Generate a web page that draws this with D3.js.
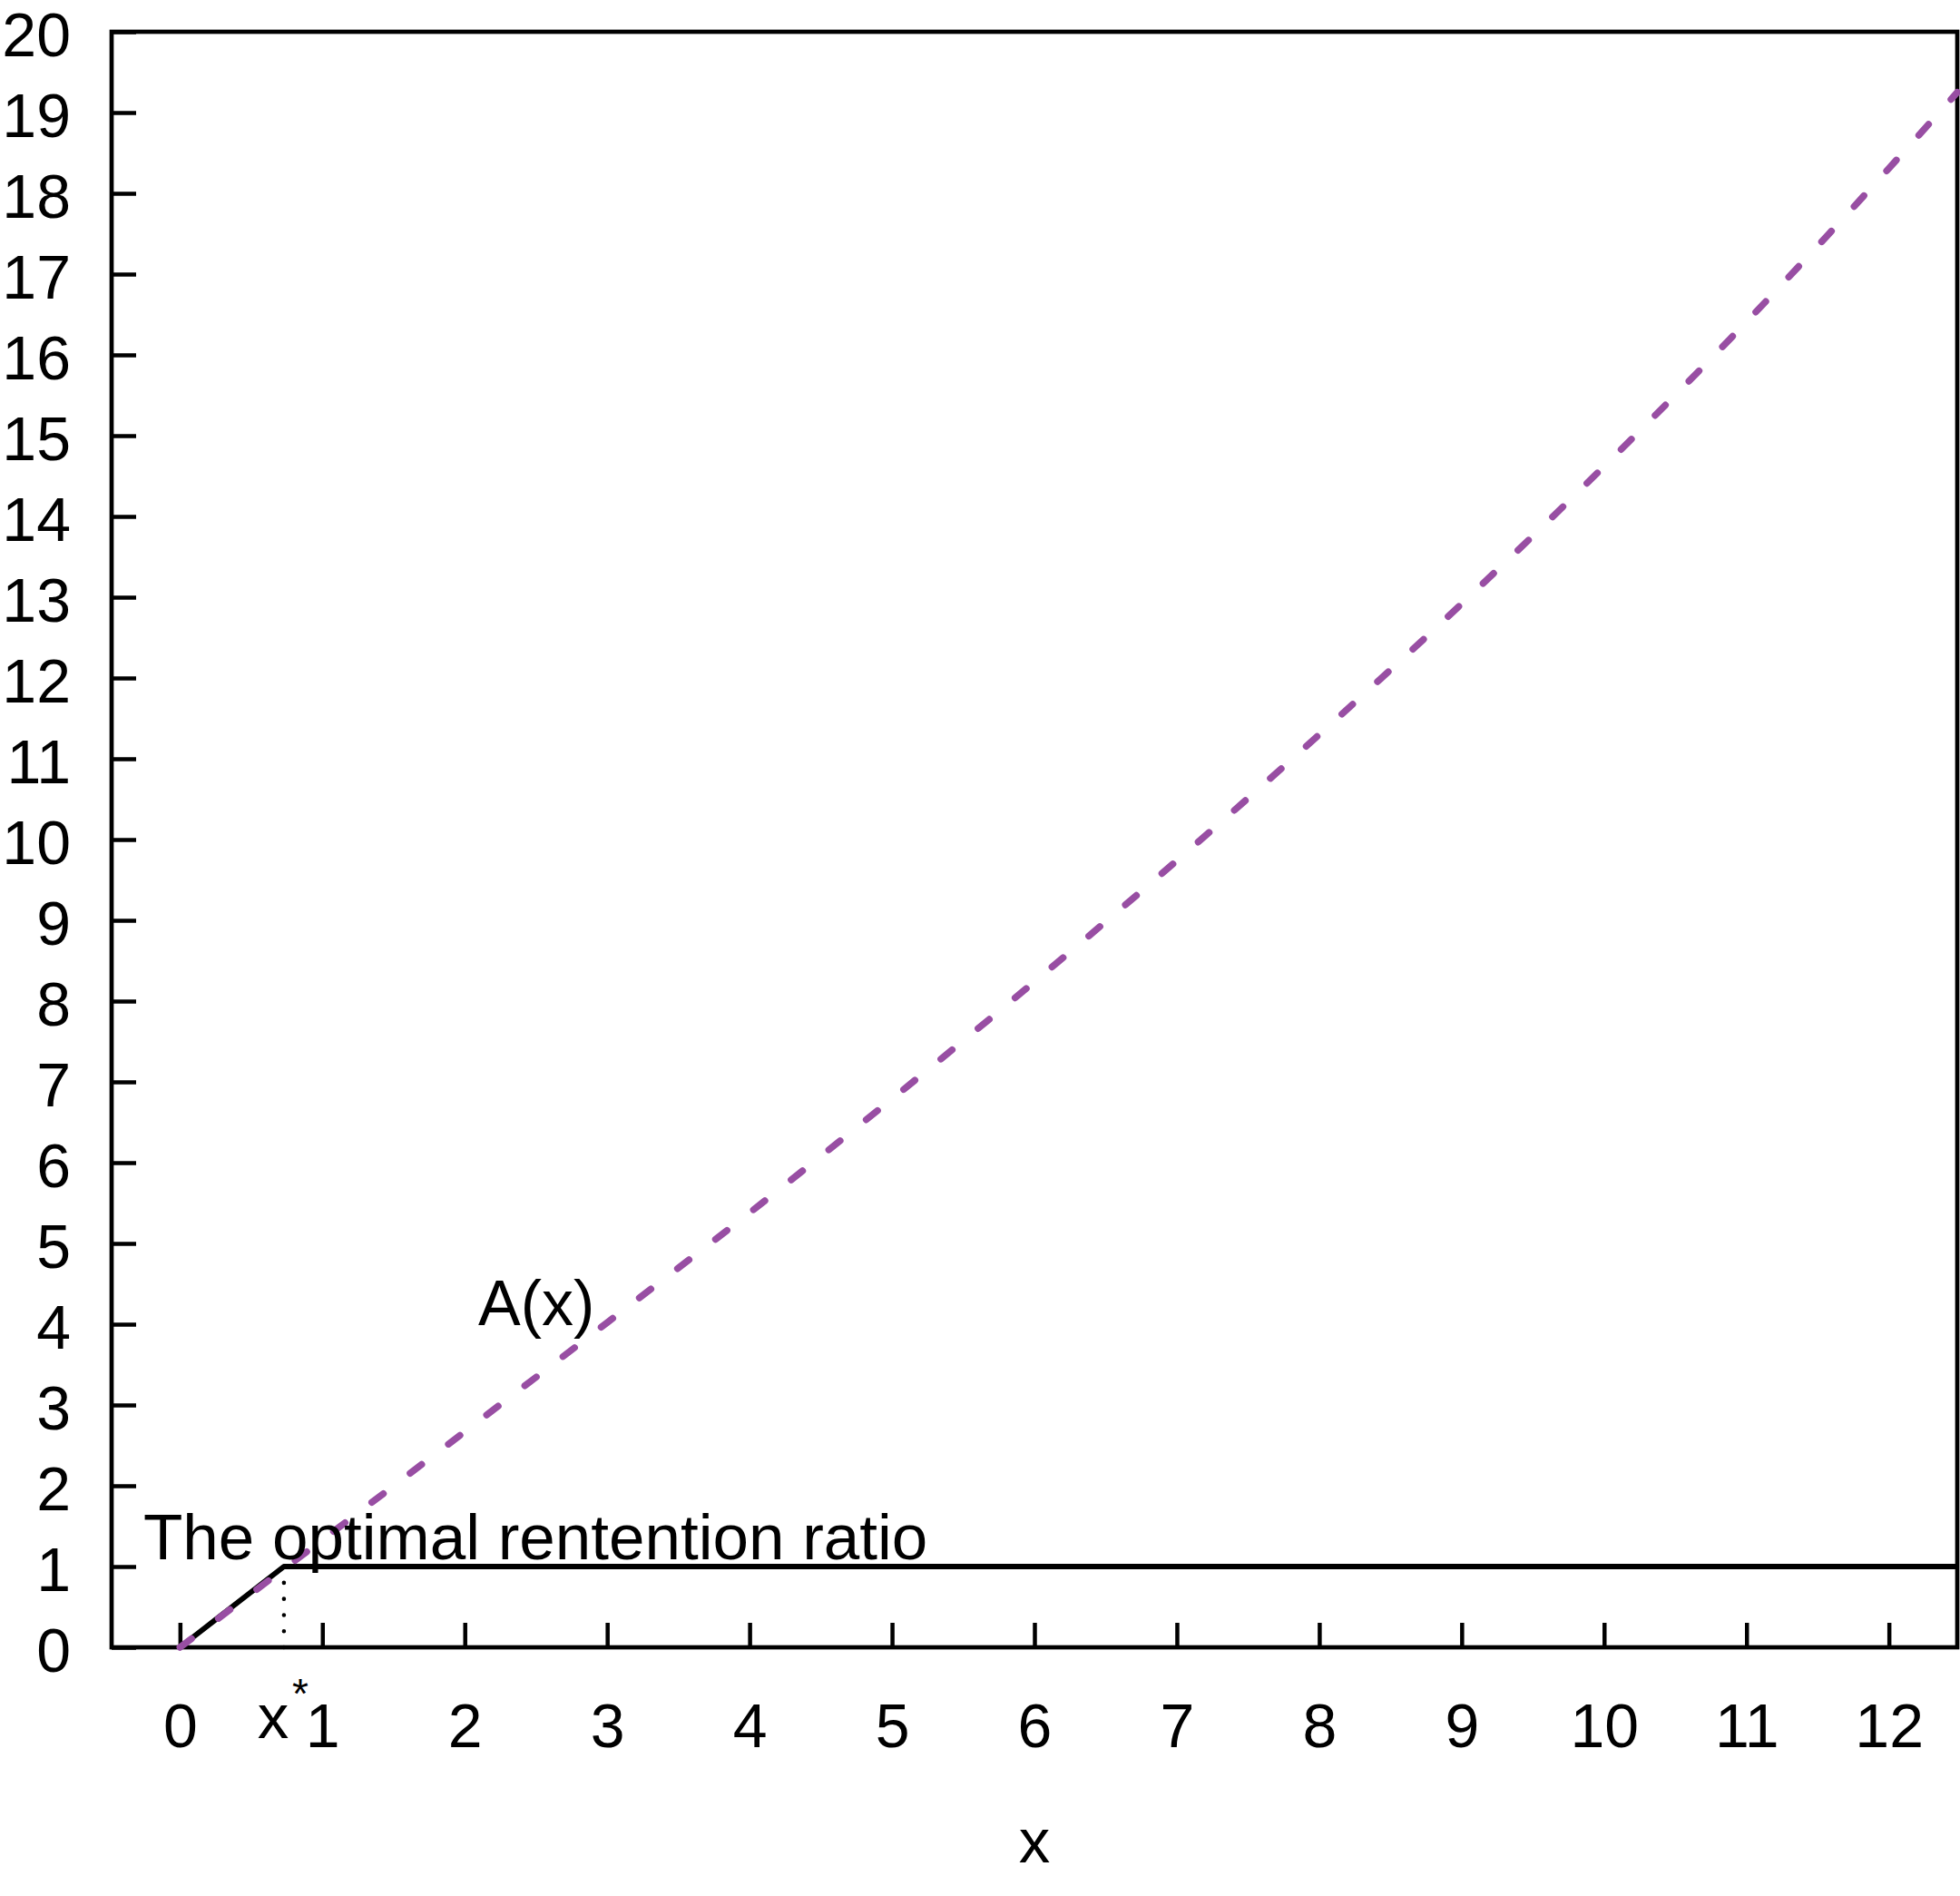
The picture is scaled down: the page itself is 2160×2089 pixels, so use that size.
<!DOCTYPE html>
<html>
<head>
<meta charset="utf-8">
<script src="https://cdn.jsdelivr.net/npm/d3@7"></script>
<style>
  body { margin: 0; background: #fff; }
  text { font-family: "Liberation Sans", Arial, Helvetica, sans-serif; fill: #000; }
</style>
</head>
<body>
<div id="chart"></div>
<script>
// values
const xTicks = [0, 1, 2, 3, 4, 5, 6, 7, 8, 9, 10, 11, 12];
const yTicks = [0, 1, 2, 3, 4, 5, 6, 7, 8, 9, 10, 11, 12, 13, 14, 15, 16, 17, 18, 19, 20];

// A(x), purple dashed
const aX = [0, 1, 2, 3, 4, 5, 6, 7, 8, 9, 10, 11, 12, 12.48];
const aY = [0, 1.33, 2.67, 4.02, 5.38, 6.79, 8.24, 9.74, 11.30, 12.92, 14.62, 16.41, 18.31, 19.25];

// optimal retention ratio, black solid
const xStar = 0.73;
const rX = [0, xStar, 12.48];
const rY = [0, 1, 1];

const width = 2160,
  height = 2089;

const x = d3.scaleLinear().domain([-0.48, 12.48]).range([123, 2157]);
const y = d3.scaleLinear().domain([0, 20]).range([1815, 35]);

const svg = d3.select("#chart").append("svg")
  .attr("width", width)
  .attr("height", height)
  .style("display", "block");

svg.append("rect")
  .attr("width", width)
  .attr("height", height)
  .attr("fill", "#fff");

// axes, ticks pointing inward
const gx = svg.append("g")
  .attr("transform", `translate(0,${y(0)})`)
  .call(d3.axisBottom(x).tickValues(xTicks).tickSizeInner(-27).tickSizeOuter(0).tickPadding(62));

const gy = svg.append("g")
  .attr("transform", `translate(${x.range()[0]},0)`)
  .call(d3.axisLeft(y).tickValues(yTicks).tickSizeInner(-27).tickSizeOuter(0).tickPadding(45));

[gx, gy].forEach(g => {
  g.select(".domain").remove();
  g.selectAll(".tick line").attr("stroke", "#000").attr("stroke-width", 4.5);
  g.selectAll(".tick text")
    .attr("font-size", 68)
    .attr("font-family", '"Liberation Sans", Arial, Helvetica, sans-serif')
    .attr("fill", "#000");
});
gy.selectAll(".tick text").attr("dy", "0.39em");

// plot box
svg.append("rect")
  .attr("x", x.range()[0])
  .attr("y", y(20))
  .attr("width", x.range()[1] - x.range()[0])
  .attr("height", y(0) - y(20))
  .attr("fill", "none")
  .attr("stroke", "#000")
  .attr("stroke-width", 4.7);

const line = d3.line()
  .x(i => x(i[0]))
  .y(i => y(i[1]));

// retention ratio
svg.append("path")
  .datum(d3.zip(rX, rY))
  .attr("d", line)
  .attr("fill", "none")
  .attr("stroke", "#000")
  .attr("stroke-width", 6)
  .attr("stroke-linejoin", "round");

// dotted drop at x*
svg.append("path")
  .datum([[xStar, 1], [xStar, 0]])
  .attr("d", line)
  .attr("fill", "none")
  .attr("stroke", "#000")
  .attr("stroke-width", 4.5)
  .attr("stroke-linecap", "round")
  .attr("stroke-dasharray", "0.1 17.7");

// A(x)
svg.append("path")
  .datum(d3.zip(aX, aY))
  .attr("d", line.curve(d3.curveMonotoneX))
  .attr("fill", "none")
  .attr("stroke", "#984EA3")
  .attr("stroke-width", 7.5)
  .attr("stroke-linecap", "round")
  .attr("stroke-dasharray", "16 37");

// annotations
svg.append("text")
  .attr("x", 158)
  .attr("y", 1718)
  .attr("font-size", 71)
  .text("The optimal rentention ratio");

svg.append("text")
  .attr("x", 527)
  .attr("y", 1460)
  .attr("font-size", 70)
  .text("A(x)");

// x* label under the axis
svg.append("text")
  .attr("x", x(xStar) - 12)
  .attr("y", 1915)
  .attr("font-size", 69)
  .attr("text-anchor", "middle")
  .text("x");

svg.append("text")
  .attr("x", x(xStar) + 18)
  .attr("y", 1882)
  .attr("font-size", 46)
  .attr("text-anchor", "middle")
  .text("*");

// axis title
svg.append("text")
  .attr("x", (x.range()[0] + x.range()[1]) / 2)
  .attr("y", 2052)
  .attr("font-size", 69)
  .attr("text-anchor", "middle")
  .text("x");
</script>
</body>
</html>
